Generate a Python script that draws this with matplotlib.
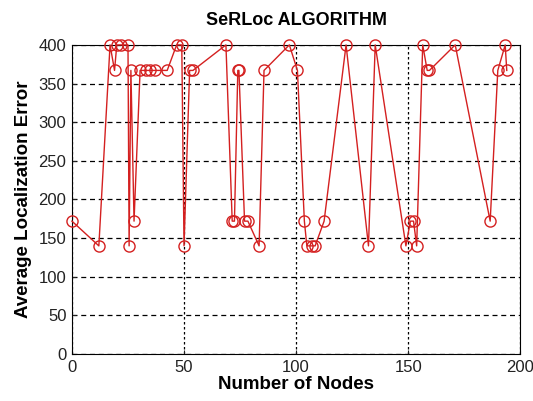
import matplotlib.pyplot as plt

plt.rcParams['font.family'] = ['Liberation Sans', 'DejaVu Sans']

# Number of nodes vs average localization error
nodes = [0, 12, 17, 19, 20, 22, 25, 25.5, 26.3, 27.7, 30.4, 33, 35, 37, 42.5,
         46.7, 49, 50, 52.5, 54, 68.7, 71.5, 72.5, 74, 74.5, 77, 78.5, 83.5,
         85.7, 97, 100.6, 103.7, 104.8, 107, 108.5, 112.5, 122.3, 132.3, 135.3,
         149, 151, 152.4, 153.8, 156.5, 158.5, 159.5, 171, 186.6, 190, 193.3, 194]
error = [172, 140, 400, 367, 400, 400, 400, 140, 367, 172, 367, 367, 367, 367, 367,
         400, 400, 140, 367, 367, 400, 172, 172, 367, 367, 172, 172, 140,
         367, 400, 367, 172, 140, 140, 140, 172, 400, 140, 400,
         140, 172, 172, 140, 400, 367, 367, 400, 172, 367, 400, 367]

fig = plt.figure(figsize=(5.33, 4.01), dpi=100)
ax = fig.add_axes([0.135, 0.117, 0.841, 0.771])

ax.plot(nodes, error, color='#d42020', linewidth=1, marker='o',
        markersize=8, markerfacecolor='none', markeredgecolor='#d42020',
        markeredgewidth=1, clip_on=False, zorder=3)

ax.set_xlim(0, 200)
ax.set_ylim(0, 400)
ax.set_xticks([0, 50, 100, 150, 200])
ax.set_yticks(range(0, 401, 50))
ax.yaxis.grid(True, color='black', linestyle=(0, (4, 3)), linewidth=0.9)
ax.xaxis.grid(True, color='black', linestyle=(0, (2, 2)), linewidth=0.9)
ax.set_axisbelow(True)
ax.tick_params(direction='in', length=3, labelsize=12, colors='#222222', pad=4)

ax.set_title('SeRLoc ALGORITHM', fontsize=13, fontweight='bold', pad=14)
ax.set_xlabel('Number of Nodes', fontsize=13.5, fontweight='bold', labelpad=1)
ax.set_ylabel('Average Localization Error', fontsize=13.5, fontweight='bold', labelpad=5)

plt.savefig('out.png', dpi=100)
